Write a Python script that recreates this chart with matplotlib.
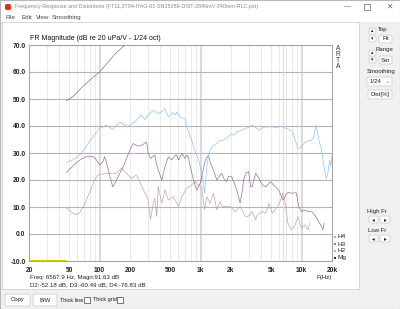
import numpy as np
import matplotlib
matplotlib.use('Agg')
import matplotlib.pyplot as plt
from matplotlib.patches import Rectangle, FancyBboxPatch

plt.rcParams['font.family'] = ['Liberation Sans', 'DejaVu Sans']

# DATA
mg_f = [47, 55, 68, 80, 100, 120, 145, 182, 220]
mg_db = [49.4, 51, 54.6, 57, 60, 63.5, 67, 70.3, 74]

h2_f = [47, 55, 63, 70, 79, 90, 100, 116, 135, 157, 175, 190, 222, 259, 281, 310, 340,
        381, 420, 444, 479, 498, 530, 558, 578, 620, 672, 702, 726, 818, 850, 915, 960,
        1030, 1093, 1153, 1197, 1240, 1340, 1440, 1570, 1620, 1800, 2030, 2130, 2300,
        2570, 2790, 3000, 3250, 3500, 3780, 4200, 4600, 5140, 5600, 6260, 6980, 7500,
        8150, 8600, 9180, 9500, 10000, 10700, 11900, 12400, 13200, 13800, 14500, 15100,
        15600, 16300, 17000, 17600, 18300, 19000, 19500, 20000]
h2_db = [26.5, 27.5, 29.2, 31.2, 34.1, 37, 39.1, 40.3, 38.7, 41.5, 40.5, 39.7, 41.5, 44,
         42.4, 44.5, 45.8, 44.6, 45.5, 46.5, 43.4, 43.8, 45, 44, 45.2, 43.5, 42.8, 42.7,
         39.7, 34.8, 32.3, 29.2, 27, 22.5, 15.1, 24.9, 29.2, 31, 32.9, 33.5, 34.8, 34.5,
         35.5, 37.2, 36.6, 37.8, 38.5, 39.1, 39.5, 40.3, 39.5, 38.5, 39.5, 39.7, 39.7,
         39.3, 39.9, 39.1, 38.8, 37.8, 35, 31.7, 31.7, 32.5, 33.8, 34.8, 34.5, 36, 40.3,
         37, 33.5, 32, 27.4, 23, 20.6, 23, 27.4, 25, 29.2]

h3_f = [47, 58, 66, 73.6, 85.6, 93, 100, 108, 112, 116, 121, 128, 135, 143, 152, 171, 185,
        199, 215, 228, 241, 265, 292, 303, 320, 352, 368, 381, 413, 444, 479, 518, 558,
        580, 605, 652, 702, 726, 755, 785, 850, 915, 990, 1050, 1115, 1197, 1260, 1340,
        1450, 1540, 1620, 1700, 1810, 1900, 2030, 2150, 2280, 2460, 2560, 2670, 2790,
        2990, 3130, 3240, 3510, 3780, 4090, 4410, 4700, 4950, 5300, 5580, 6030, 6540,
        6980, 7400, 7850, 8830, 9100, 9340, 9950, 10700, 11600, 12300, 13100, 14100,
        15100, 16300, 16700]
h3_db = [22.8, 26.2, 27.8, 28.6, 28.8, 27.5, 25.5, 26.8, 28.6, 27, 24.3, 20.5, 17.5, 19,
         21.2, 24.9, 28, 31, 33.5, 33, 32.5, 33, 34.1, 29.8, 28, 29.2, 25.5, 23.7, 20,
         24.9, 28.6, 27.4, 29.2, 29.2, 27.4, 29.8, 28, 29.2, 28.6, 25.5, 20, 16.3, 18.8,
         23, 27.4, 29.2, 26, 23.7, 20, 21.5, 22.5, 20.5, 19.4, 21.5, 21.2, 19, 16.3, 11.4,
         15, 20, 22.5, 23.1, 17.5, 17.5, 22.5, 20.6, 18.2, 17.5, 18.5, 19.4, 18, 17.5,
         15.7, 12.6, 14.5, 15.5, 15.1, 15.3, 13, 10.2, 8.3, 8.9, 8.3, 8.5, 7.7, 5.9, 4,
         1.6, 4]

h4_f = [47, 53, 58, 63, 70.6, 79, 89, 96, 116, 146, 164, 185, 206, 231, 250, 281, 303,
        319, 340, 352, 368, 381, 413, 444, 479, 537, 605, 652, 726, 818, 880, 950, 1030,
        1093, 1153, 1240, 1340, 1450, 1560, 1650, 1750, 1960, 2200, 2460, 2770, 2900,
        3110, 3250, 3510, 3650, 4090, 4410, 4760, 5140, 5580, 6030, 6540, 6790, 7320,
        7900, 8530, 9200, 9950, 10700, 11600, 12000]
h4_db = [9.8, 8, 7.1, 7.7, 10.8, 15.1, 20, 21.8, 22.5, 22.5, 24.3, 22.5, 20.6, 21.8, 19.4,
         15.1, 12.6, 5.3, 11.4, 13.2, 6.5, 17.5, 11.4, 16.3, 12.6, 13.8, 10.2, 13.8, 16.9,
         18.2, 19.4, 18.2, 16.9, 9, 13.8, 11.4, 15.1, 9, 12, 10, 10.2, 10.2, 8.3, 10.2,
         6.5, 6.5, 7.1, 8.3, 5.3, 7.1, 8.3, 7.7, 11.4, 7.7, 9.5, 11.4, 15.1, 12.6, 4, 1.6,
         2.8, 6.5, 2.2, 3.4, 1.6, 4]

cursor_f = 6567.9
yticks = [-10, 0, 10, 20, 30, 40, 50, 60, 70]
xticks = [20, 50, 100, 200, 500, 1000, 2000, 5000, 10000, 20000]
xlabels = ['20', '50', '100', '200', '500', '1k', '2k', '5k', '10k', '20k']

c_h2, c_h3, c_h4, c_mg = '#8cc4f8', '#9c6aa2', '#c4a2a6', '#7a7a7a'

W, H = 400, 309
fig = plt.figure(figsize=(4, 3.09), dpi=100)
fig.patch.set_facecolor('#f0f0f0')


def fx(x):
    return x / W


def fy(y):
    return 1 - y / H


def rect(x0, y0, x1, y1, fc, ec='none', lw=0.6, z=0):
    fig.patches.append(Rectangle((fx(x0), fy(y1)), fx(x1 - x0), (y1 - y0) / H,
                                 transform=fig.transFigure, fc=fc, ec=ec, lw=lw, zorder=z))


def button(x0, y0, x1, y1, label, fs=4.3):
    fig.patches.append(FancyBboxPatch((fx(x0), fy(y1)), fx(x1 - x0), (y1 - y0) / H,
                                      boxstyle='round,pad=0,rounding_size=0.004',
                                      transform=fig.transFigure, fc='#fdfdfd', ec='#c8c8c8',
                                      lw=0.5, zorder=2))
    fig.text(fx((x0 + x1) / 2), fy((y0 + y1) / 2), label, ha='center', va='center',
             fontsize=fs, color='#222222', zorder=3)


# window chrome
rect(0, 0, 400, 13, '#ffffff', z=-2)
rect(0, 13, 400, 22, '#ffffff', z=-2)
rect(2, 22, 359, 289, '#ffffff', ec='#d0d0d0', z=-2)
rect(0, 0, 399.5, 308.5, 'none', ec='#b8b8b8', lw=0.8, z=5)
fig.patches.append(FancyBboxPatch((fx(5), fy(10)), fx(6), 6 / H,
                                  boxstyle='round,pad=0,rounding_size=0.005',
                                  transform=fig.transFigure, fc='#e03020', ec='none', zorder=3))
fig.text(fx(15), fy(6.5),
         'Frequency Response and Distortions (FT11,3T04-HAG-01-SN15059-DIST-2840mV-340mm-RLC.pxt)',
         fontsize=3.9, color='#888888', va='center')
fig.text(fx(347), fy(6.5), '\u2014', fontsize=5, color='#666666', ha='center', va='center')
rect(364, 3.5, 370, 9.5, 'none', ec='#666666', lw=0.5, z=3)
fig.text(fx(389), fy(6.5), '\u2715', fontsize=5.5, color='#666666', ha='center', va='center',
         family=['DejaVu Sans'])
for x, t in [(5, 'File'), (22, 'Edit'), (36, 'View'), (52, 'Smoothing')]:
    fig.text(fx(x), fy(17.5), t, fontsize=4.5, color='#444444', va='center')

# right panel controls
fig.text(fx(383), fy(29), 'Top', fontsize=4.3, ha='center', va='center', color='#222222')
button(369, 28, 376, 34, '\u25b4', 3.5)
button(369, 36, 376, 42, '\u25be', 3.5)
button(379, 35, 392, 43, 'Fit')
fig.text(fx(384), fy(50), 'Range', fontsize=4.3, ha='center', va='center', color='#222222')
button(369, 50, 376, 56, '\u25b4', 3.5)
button(369, 57, 376, 63, '\u25be', 3.5)
button(379, 56, 392, 64, 'Sat')
fig.text(fx(381), fy(71), 'Smoothing', fontsize=4.3, ha='center', va='center', color='#222222')
button(367, 77, 392, 86, '')
fig.text(fx(370), fy(81.5), '1/24', fontsize=4.3, va='center', color='#222222')
fig.text(fx(387), fy(81.5), '\u2304', fontsize=4.5, ha='center', va='center', color='#888888',
         family=['DejaVu Sans'])
button(368, 90, 392, 99, 'Dist[%]')
fig.text(fx(377), fy(212), 'High Fr', fontsize=4.3, ha='center', va='center', color='#222222')
button(369, 216, 378, 223, '\u25c2', 4)
button(380, 216, 390, 223, '\u25b8', 4)
fig.text(fx(377), fy(231), 'Low Fr', fontsize=4.3, ha='center', va='center', color='#222222')
button(369, 235, 378, 242, '\u25c2', 4)
button(380, 235, 390, 242, '\u25b8', 4)

# bottom bar
button(5, 294, 30, 306, 'Copy')
button(33, 294, 57, 306, 'B/W')
fig.text(fx(60), fy(300), 'Thick line', fontsize=4.0, va='center', color='#222222')
rect(84, 297, 89.5, 302.5, '#ffffff', ec='#444444', lw=0.5, z=3)
fig.text(fx(93), fy(300), 'Thick grid', fontsize=4.0, va='center', color='#222222')
rect(117, 297, 122.5, 302.5, '#ffffff', ec='#444444', lw=0.5, z=3)

# plot
ax = fig.add_axes([fx(29), fy(261), fx(332 - 29), (261 - 45) / H])
ax.set_zorder(1)
ax.set_facecolor('#ffffff')
ax.set_xscale('log')
ax.set_xlim(20, 20000)
ax.set_ylim(-10, 70)

for dec in [10, 100, 1000, 10000]:
    for m in range(1, 10):
        f = dec * m
        if 20 < f < 20000:
            major = m == 1
            ax.axvline(f, color='#dadada' if major else '#e6e6e6',
                       lw=1.4 if major else 0.6, zorder=1)
for y in yticks:
    ax.axhline(y, color='#b4b4b4', lw=0.8, zorder=1)

ax.axvline(cursor_f, color='#f0e68c', lw=0.8, zorder=2)
ax.plot([20, 48], [-10, -10], color='#d4d400', lw=1.6, zorder=2, solid_capstyle='butt')

ax.plot(h4_f, h4_db, color=c_h4, lw=0.5, zorder=3)
ax.plot(h3_f, h3_db, color=c_h3, lw=0.5, zorder=4)
ax.plot(h2_f, h2_db, color=c_h2, lw=0.5, zorder=5)
ax.plot(mg_f, mg_db, color=c_mg, lw=0.5, zorder=6)

ax.set_yticks(yticks)
ax.set_yticklabels(['%.1f' % v for v in yticks])
ax.set_xticks(xticks)
ax.set_xticklabels(xlabels)
ax.minorticks_off()
ax.tick_params(length=0, labelsize=4.8, colors='#222222')
ax.tick_params(axis='x', pad=4)
ax.tick_params(axis='y', pad=2.5)
for lab in ax.get_xticklabels() + ax.get_yticklabels():
    lab.set_fontweight('bold')
for s in ax.spines.values():
    s.set_color('#a0a0a0')
    s.set_linewidth(0.7)

fig.text(fx(30), fy(38), 'FR Magnitude (dB re 20 uPa/V - 1/24 oct)', fontsize=5.0,
         color='#111111', va='center')
fig.text(fx(324), fy(277), 'F(Hz)', fontsize=4.4, color='#222222', va='center', ha='center')
fig.text(fx(30), fy(277), 'Freq: 6567.9 Hz, Magn:91.63 dB', fontsize=4.4, color='#222222',
         va='center')
fig.text(fx(30), fy(284.5), 'D2:-52.18 dB, D3:-60.49 dB, D4:-76.83 dB', fontsize=4.4,
         color='#222222', va='center')
for i, ch in enumerate('ARTA'):
    fig.text(fx(336), fy(48 + 6.3 * i), ch, fontsize=4.8, color='#333333', va='center')
for i, (name, c) in enumerate([('H4', c_h4), ('H3', c_h3), ('H2', c_h2), ('Mg', '#303030')]):
    yy = 237 + 7 * i
    rect(334, yy - 1, 336, yy + 1, c, z=3)
    fig.text(fx(337.5), fy(yy), name, fontsize=4.6, color='#222222', va='center')

fig.savefig('out.png', dpi=100, facecolor=fig.get_facecolor())
